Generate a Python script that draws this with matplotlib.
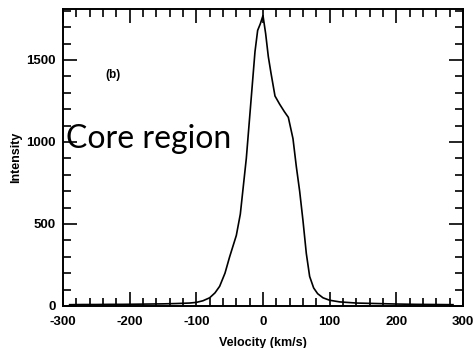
import matplotlib
matplotlib.use("Agg")
import matplotlib.pyplot as plt
from matplotlib.ticker import MultipleLocator

plt.rcParams["axes.unicode_minus"] = False

velocity = [-290, -270, -250, -230, -210, -190, -170, -150, -130, -110, -100, -90, -80,
            -72, -65, -57, -50, -40, -34, -25, -18, -12, -8, -4, 0, 4, 8, 12, 18, 25,
            32, 38, 45, 50, 55, 60, 65, 70, 76, 82, 90, 100, 115, 140, 170, 200, 230, 260, 285]
intensity = [8, 9, 9, 10, 10, 11, 12, 13, 15, 18, 22, 32, 50,
             80, 120, 200, 300, 430, 560, 900, 1250, 1550, 1680, 1720, 1770, 1660, 1520, 1420, 1280, 1230,
             1185, 1150, 1020, 850, 700, 520, 320, 180, 110, 75, 50, 35, 25, 18, 15, 12, 10, 9, 8]

x_ticks = [-300, -200, -100, 0, 100, 200, 300]
y_ticks = [0, 500, 1000, 1500]

fig = plt.figure(figsize=(4.75, 3.48), dpi=100)
ax = fig.add_axes([0.1326, 0.1207, 0.8421, 0.8533])
ax.plot(velocity, intensity, color="black", lw=1.2)
ax.set_xlim(-300, 300)
ax.set_ylim(0, 1810)
ax.set_xticks(x_ticks)
ax.set_yticks(y_ticks)
ax.xaxis.set_minor_locator(MultipleLocator(20))
ax.yaxis.set_minor_locator(MultipleLocator(100))
ax.tick_params(which="both", direction="in", top=True, right=True, width=1.2, color="black")
ax.tick_params(which="major", length=10)
ax.tick_params(which="minor", length=5.5)
ax.tick_params(axis="x", pad=7)
ax.tick_params(axis="y", pad=5)
ax.tick_params(labelsize=9.5)
for lab in ax.get_xticklabels() + ax.get_yticklabels():
    lab.set_fontweight("bold")
    lab.set_family("Liberation Sans")
for s in ax.spines.values():
    s.set_linewidth(1.4)
ax.set_xlabel("Velocity (km/s)", fontsize=9, fontweight="bold", labelpad=7, family="Liberation Sans")
ax.set_ylabel("Intensity", fontsize=9, fontweight="bold", labelpad=3, family="Liberation Sans")
ax.text(-225, 1410, "(b)", fontsize=8.5, fontweight="bold", ha="center", va="center", family="Liberation Sans")
ax.text(-295, 1015, "Core region", fontsize=23, ha="left", va="center", family="Lato")
fig.savefig("out.png", dpi=100)
